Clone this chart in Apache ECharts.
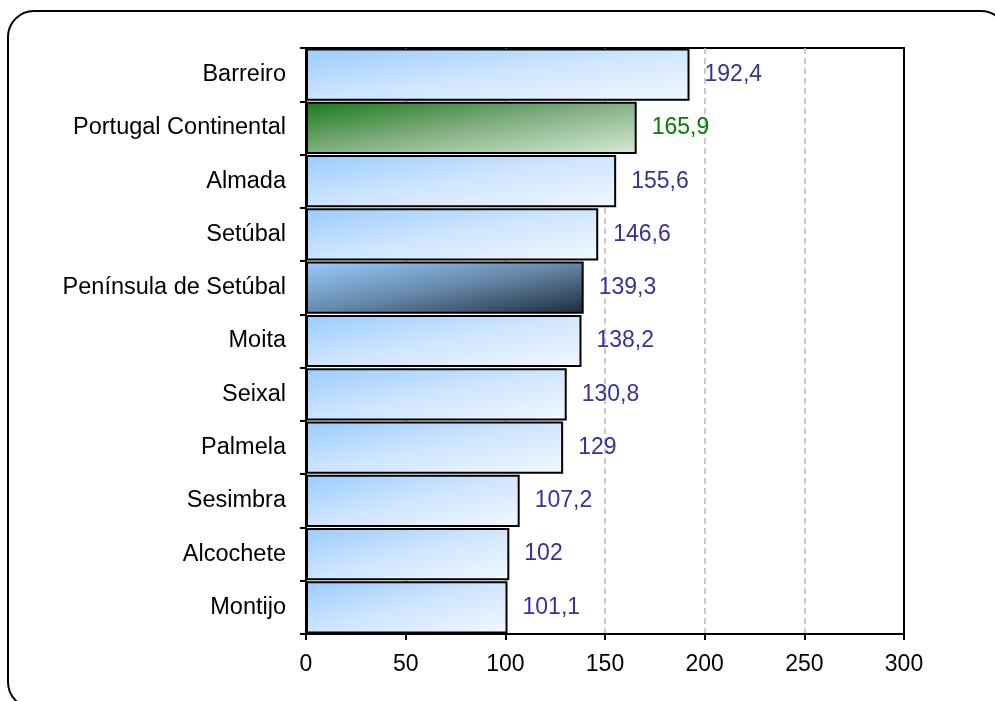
<!DOCTYPE html>
<html>
<head>
<meta charset="utf-8">
<script src="https://cdn.jsdelivr.net/npm/echarts@6/dist/echarts.min.js"></script>
<style>
html,body{margin:0;padding:0;background:#fff;}
#chart{width:995px;height:701px;}
</style>
</head>
<body>
<div id="chart"></div>
<script>
const categories = ["Barreiro","Portugal Continental","Almada","Setúbal","Península de Setúbal","Moita","Seixal","Palmela","Sesimbra","Alcochete","Montijo"];
const values = [192.4,165.9,155.6,146.6,139.3,138.2,130.8,129,107.2,102,101.1];
const xTicks = [0,50,100,150,200,250,300];

const GRID = {left:306,right:91,top:48,bottom:67};
const plotW = 995 - GRID.left - GRID.right;
const plotH = 701 - GRID.top - GRID.bottom;
const barH = plotH / categories.length * 0.98;

// diagonal gradient (corner to corner, like office "diagonal" fills)
function grad(w, stops){
  const h = barH;
  const s = h*h + w*w;
  const dx = 2*w*h*h/s, dy = 2*w*w*h/s;
  return {type:'linear',x:0,y:0,x2:dx/w,y2:dy/h,
    colorStops:stops.map((c,i)=>({offset:i/(stops.length-1),color:c}))};
}
const blueStops = ['#99ccff','#cfe5ff','#f2f8ff'];
const greenStops = ['#1a7a1a','#84b084','#d6ebd6'];
const darkStops = ['#99ccff','#6688aa','#1e2a38'];

const xMax = xTicks[xTicks.length-1];
const data = values.map((v,i)=>{
  const cat = categories[i];
  const w = v / xMax * plotW;
  let stops = blueStops, lc = '#333399';
  if (cat === 'Portugal Continental'){ stops = greenStops; lc = '#008000'; }
  if (cat === 'Península de Setúbal'){ stops = darkStops; }
  return {value:v, itemStyle:{color:grad(w, stops)}, label:{color:lc}};
});

const FONT = 'Liberation Sans, Arial, sans-serif';
const chart = echarts.init(document.getElementById('chart'));
chart.setOption({
  animation:false,
  backgroundColor:'#fff',
  graphic:[{type:'rect',shape:{x:8,y:11,width:999,height:697,r:26},style:{fill:'none',stroke:'#000',lineWidth:2},z:-1}],
  grid:{left:GRID.left,right:GRID.right,top:GRID.top,bottom:GRID.bottom,show:true,borderColor:'#000',borderWidth:2,backgroundColor:'transparent',containLabel:false},
  xAxis:{type:'value',min:xTicks[0],max:xMax,interval:50,
    axisLine:{show:true,lineStyle:{color:'#000',width:2}},
    axisTick:{show:true,length:6,lineStyle:{color:'#000',width:2}},
    axisLabel:{color:'#000',fontSize:23,fontFamily:FONT,margin:19},
    splitLine:{show:true,showMinLine:false,showMaxLine:false,lineStyle:{color:'#b8b8b8',type:[6,4],width:1.5}}
  },
  yAxis:{type:'category',data:categories,inverse:true,
    axisLine:{show:true,lineStyle:{color:'#000',width:2}},
    axisTick:{show:true,length:6,lineStyle:{color:'#000',width:2}},
    axisLabel:{color:'#000',fontSize:23.5,fontFamily:FONT,margin:20}
  },
  series:[{type:'bar',data:data,barCategoryGap:'2%',
    itemStyle:{borderColor:'#000',borderWidth:2},
    label:{show:true,position:'right',distance:15,fontSize:23,fontFamily:FONT,
      formatter:p=>String(p.value).replace('.',',')}
  }]
});
</script>
</body>
</html>
